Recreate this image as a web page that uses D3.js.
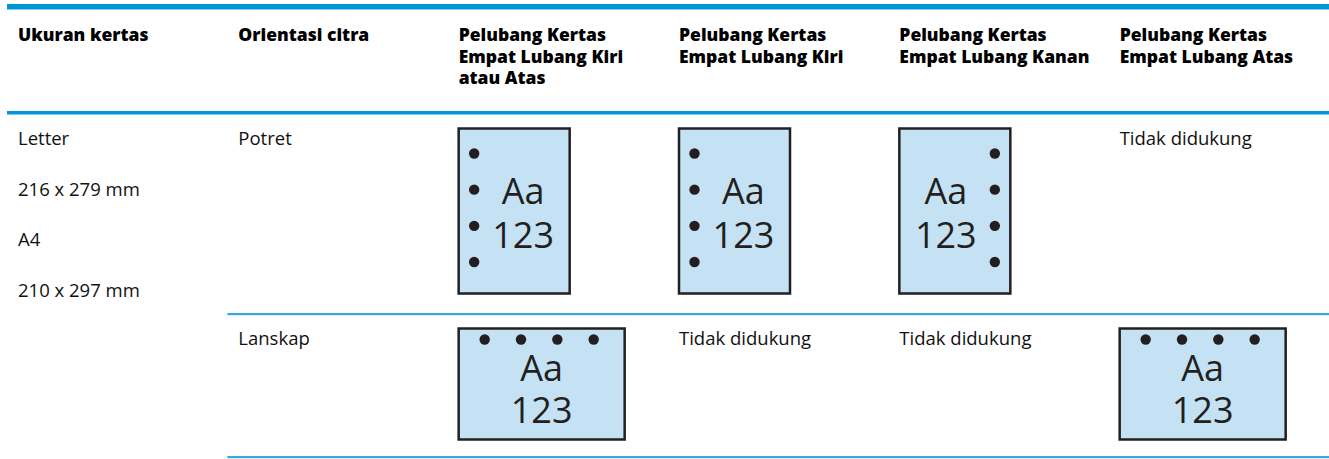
<!DOCTYPE html>
<html>
<head>
<meta charset="utf-8">
<script src="https://cdn.jsdelivr.net/npm/d3@7"></script>
<style>
  html, body { margin: 0; padding: 0; background: #fff; }
  svg { display: block; }
</style>
</head>
<body>
<svg id="chart" width="1329" height="459"></svg>
<script>
// ---- data ----
const columnKeys = ["size", "orient", "leftOrTop", "left", "right", "top"];
const headerLines = [
  ["Ukuran kertas"],
  ["Orientasi citra"],
  ["Pelubang Kertas", "Empat Lubang Kiri", "atau Atas"],
  ["Pelubang Kertas", "Empat Lubang Kiri"],
  ["Pelubang Kertas", "Empat Lubang Kanan"],
  ["Pelubang Kertas", "Empat Lubang Atas"]
];
const paperSizes = ["Letter", "216 x 279 mm", "A4", "210 x 297 mm"];
const orientations = ["Potret", "Lanskap"];
// hole position per finisher column for each orientation ("none" = unsupported)
const portraitHoles = ["left", "left", "right", "none"];
const landscapeHoles = ["top", "none", "none", "top"];
const unsupportedLabel = "Tidak didukung";
const iconLines = ["Aa", "123"];
const holeIndex = [0, 1, 2, 3];

// ---- layout ----
const W = 1329, H = 459;
const svg = d3.select("#chart");
const x = d3.scaleBand().domain(columnKeys).range([7, W]);
const pad = 11;
const rowTops = { header: 7, portrait: 112.5, landscape: 314, end: 457 };
const blue = "#0096d6";
const blueLight = "#3aa7dd";
const bodyFont = "'Open Sans', sans-serif";

// lines
svg.append("rect").attr("x", x("size")).attr("y", 4).attr("width", W - x("size")).attr("height", 5.5).attr("fill", blue);
svg.append("rect").attr("x", x("size")).attr("y", 111).attr("width", W - x("size")).attr("height", 3.5).attr("fill", blue);
svg.append("rect").attr("x", x("orient")).attr("y", 313).attr("width", W - x("orient")).attr("height", 2.2).attr("fill", blueLight);
svg.append("rect").attr("x", x("orient")).attr("y", 456).attr("width", W - x("orient")).attr("height", 2.2).attr("fill", blueLight);

// header
const hdr = svg.append("g");
columnKeys.forEach((k, i) => {
  const t = hdr.append("text")
    .attr("x", x(k) + pad)
    .attr("y", 41)
    .attr("font-family", bodyFont)
    .attr("font-weight", 800)
    .attr("font-size", 17.5)
    .attr("fill", "#000");
  headerLines[i].forEach((ln, j) => {
    t.append("tspan").attr("x", x(k) + pad).attr("dy", j === 0 ? 0 : 21.5).text(ln);
  });
});

// body text helper
function bodyText(g, tx, ty, str) {
  g.append("text").attr("x", tx).attr("y", ty)
    .attr("font-family", bodyFont).attr("font-size", 18.5).attr("fill", "#111").text(str);
}
const body = svg.append("g");
paperSizes.forEach((s, i) => bodyText(body, x("size") + pad, rowTops.portrait + 32.5 + i * 50.7, s));
bodyText(body, x("orient") + pad, rowTops.portrait + 32.5, orientations[0]);
bodyText(body, x("orient") + pad, rowTops.landscape + 31, orientations[1]);

// icons
function drawIcon(g, colKey, rowTop, kind) {
  const left = x(colKey) + pad;
  if (kind === "none") {
    bodyText(g, left, rowTop + (rowTop === rowTops.portrait ? 32.5 : 31), unsupportedLabel);
    return;
  }
  const portrait = kind !== "top";
  const w = portrait ? 111 : 166, h = portrait ? 165 : 111;
  const top = rowTop + (portrait ? 16 : 14.5);
  const ic = g.append("g");
  ic.append("rect").attr("x", left).attr("y", top).attr("width", w).attr("height", h)
    .attr("fill", "#c5e2f5").attr("stroke", "#231f20").attr("stroke-width", 2.5);
  let cx = left + w / 2;
  let base1, gap;
  if (portrait) {
    const hy = d3.scalePoint().domain(holeIndex).range([top + 25, top + 133.5]);
    const hx = kind === "left" ? left + 15.5 : left + w - 15.5;
    ic.selectAll("circle").data(holeIndex).join("circle")
      .attr("cx", hx).attr("cy", d => hy(d)).attr("r", 5.2).attr("fill", "#231f20");
    cx += kind === "left" ? 9 : -9;
    base1 = top + 75; gap = 44;
  } else {
    const hx = d3.scalePoint().domain(holeIndex).range([left + 26, left + 135]);
    ic.selectAll("circle").data(holeIndex).join("circle")
      .attr("cx", d => hx(d)).attr("cy", top + 11).attr("r", 5.2).attr("fill", "#231f20");
    base1 = top + 52; gap = 42;
  }
  const t = ic.append("text").attr("x", cx).attr("y", base1).attr("text-anchor", "middle")
    .attr("font-family", bodyFont).attr("font-size", 36).attr("fill", "#231f20");
  iconLines.forEach((ln, i) => {
    t.append("tspan").attr("x", cx).attr("dy", i === 0 ? 0 : gap).text(ln);
  });
}
const finisherKeys = columnKeys.slice(2);
finisherKeys.forEach((k, i) => drawIcon(body, k, rowTops.portrait, portraitHoles[i]));
finisherKeys.forEach((k, i) => drawIcon(body, k, rowTops.landscape, landscapeHoles[i]));
</script>
</body>
</html>
